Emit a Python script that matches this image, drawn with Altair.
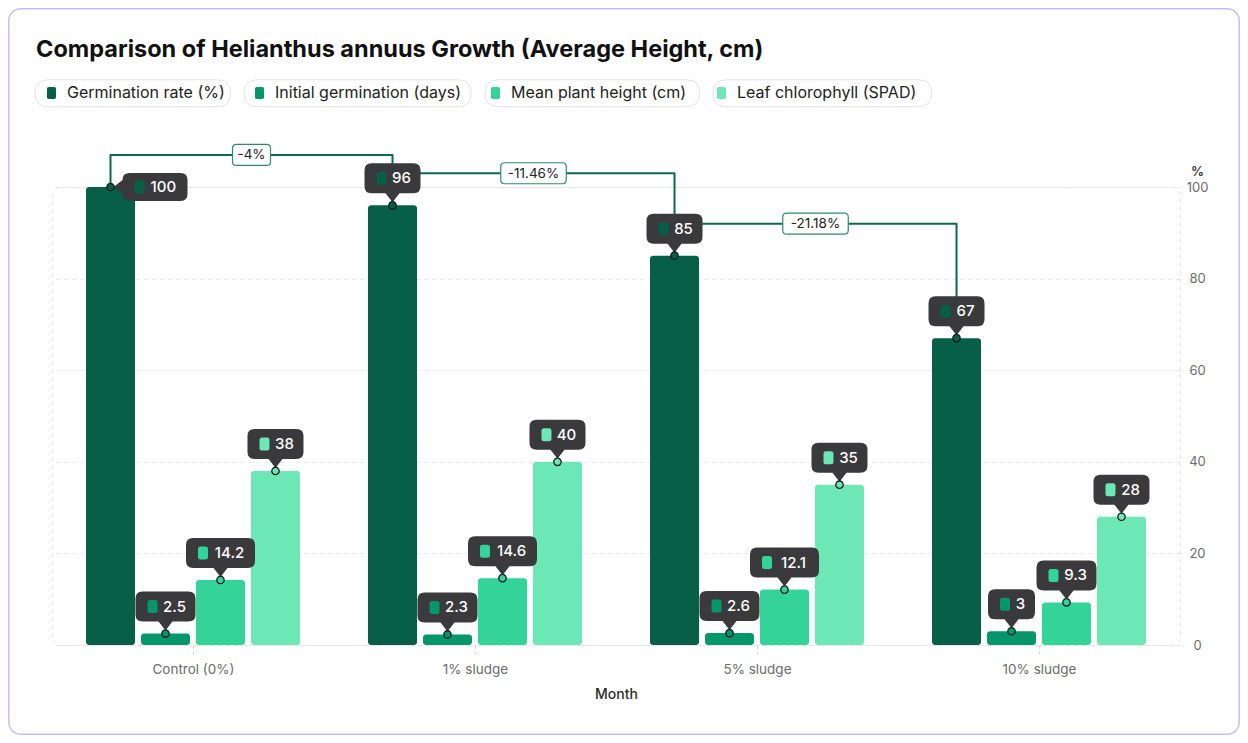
import altair as alt
import pandas as pd

# ---------------- data ----------------
categories = ["Control (0%)", "1% sludge", "5% sludge", "10% sludge"]
series_names = [
    "Germination rate (%)",
    "Initial germination (days)",
    "Mean plant height (cm)",
    "Leaf chlorophyll (SPAD)",
]
germination_rate = [100, 96, 85, 67]
initial_germination = [2.5, 2.3, 2.6, 3]
mean_plant_height = [14.2, 14.6, 12.1, 9.3]
leaf_chlorophyll = [38, 40, 35, 28]
y_ticks = [0, 20, 40, 60, 80, 100]

colors = ["#065f46", "#059669", "#34d399", "#6ee7b7"]
FONT = "Inter"
LEGEND_FS = 16
ZW = "\u200b"  # zero-width marker so the outline legend is kept apart

# layout constants (category units / value units)
STEP = 0.195   # distance between bars of a group
HALF = 0.087   # half bar width
LIFT = 7       # connector height above the taller bar


def fmt(v):
    return f"{v:g}"


def rr(x0, y0, x1, y1, r, k=1.0):
    x0, y0, x1, y1, r = (round(t / k, 4) for t in (x0, y0, x1, y1, r))
    return (f"M{x0 + r},{y0}H{x1 - r}Q{x1},{y0} {x1},{y0 + r}V{y1 - r}"
            f"Q{x1},{y1} {x1 - r},{y1}H{x0 + r}Q{x0},{y1} {x0},{y1 - r}"
            f"V{y0 + r}Q{x0},{y0} {x0 + r},{y0}Z")


def tip_width(label):
    return 38 + sum(4 if c == "." else 9 for c in label)


def tip_box(label, side):
    w = tip_width(label)
    r = 7
    if side == "top":
        l, rt, t, b = -w / 2, w / 2, -42, -12
        return (f"M{l + r},{t}H{rt - r}Q{rt},{t} {rt},{t + r}V{b - r}"
                f"Q{rt},{b} {rt - r},{b}H7L0,-3L-7,{b}H{l + r}"
                f"Q{l},{b} {l},{b - r}V{t + r}Q{l},{t} {l + r},{t}Z")
    l, rt, t, b = 12, 12 + w, -14, 14
    return (f"M{l + r},{t}H{rt - r}Q{rt},{t} {rt},{t + r}V{b - r}"
            f"Q{rt},{b} {rt - r},{b}H{l + r}Q{l},{b} {l},{b - r}"
            f"V7L3,0L{l},-7V{t + r}Q{l},{t} {l + r},{t}Z")


def tip_chip(label, side):
    w = tip_width(label)
    if side == "top":
        x0 = -w / 2 + 12
        return rr(x0, -33.5, x0 + 10, -20.5, 2.5)
    return rr(24, -6.5, 34, 6.5, 2.5)


def pct_width(s):
    tbl = {"-": 6, ".": 3.5, "%": 12}
    return 12 + sum(tbl.get(c, 8) for c in s)


# approximate Inter advance widths (em) for the legend pill outlines
EM = {"a": .55, "b": .6, "c": .55, "d": .6, "e": .57, "f": .35, "g": .6, "h": .6,
      "i": .25, "j": .25, "l": .25, "m": .9, "n": .6, "o": .6, "p": .6, "r": .38,
      "s": .52, "t": .36, "u": .6, "y": .55, " ": .28, "(": .33, ")": .33,
      "%": .8, "G": .72, "I": .27, "M": .85, "L": .53, "S": .62, "P": .62,
      "A": .7, "D": .72}


def text_w(s, fs):
    return sum(EM.get(c, .58) for c in s) * fs


SYM_OFF = 7.5   # legend symbol offset
LAB_OFF = 7.5   # legend label offset


def pill_path(name):
    # symbol centre sits 16.5px right of the pill's left edge; symbol unit = 6px
    w = 41 + text_w(name, LEGEND_FS)
    return rr(-16.5, -13.5, w - 16.5, 13.5, 13.5, k=6.0)


series_values = [germination_rate, initial_germination, mean_plant_height, leaf_chlorophyll]
rows = []
for j, (name, vals) in enumerate(zip(series_names, series_values)):
    for i, (cat, v) in enumerate(zip(categories, vals)):
        label = fmt(v)
        side = "right" if v > 97 else "top"
        rows.append(dict(category=cat, series=name, pill=name + ZW, value=v, ci=i, si=j,
                         label=label, side=side,
                         box=tip_box(label, side), chip=tip_chip(label, side)))
df = pd.DataFrame(rows)

conn_rows, pct_rows = [], []
for i in range(len(categories) - 1):
    a, b = germination_rate[i], germination_rate[i + 1]
    level = max(a, b) + LIFT
    for k, (ci, yv) in enumerate([(i, a), (i, level), (i + 1, level), (i + 1, b)]):
        conn_rows.append(dict(link=i, order=k, ci=ci, y=yv))
    pct = fmt(round((b - a) / a * 100, 2)) + "%"
    w = pct_width(pct)
    pct_rows.append(dict(link=i, ci=i + 0.5, y=level, label=pct,
                         box=rr(-w / 2, -10.5, w / 2, 10.5, 4)))
conn_df = pd.DataFrame(conn_rows)
pct_df = pd.DataFrame(pct_rows)

# ---------------- scales / axes ----------------
xscale = alt.Scale(domain=[-0.5, len(categories) - 0.5], nice=False, zero=False)
yscale = alt.Scale(domain=[0, 100], nice=False)
color_scale = alt.Scale(domain=series_names, range=colors)
pill_scale = alt.Scale(domain=[n + ZW for n in series_names],
                       range=[pill_path(n) for n in series_names])

label_expr = "[" + ",".join(f"'{c}'" for c in categories) + "][datum.value]"

x_axis = alt.Axis(
    values=list(range(len(categories))), labelExpr=label_expr, title="Month",
    grid=False, domain=False, ticks=True, tickSize=10, tickDash=[3, 3],
    tickColor="#d6d6d6", labelPadding=7, labelColor="#6b6b6b", labelFontSize=13.5,
    labelFont=FONT, titleFont=FONT, titleFontSize=14, titleFontWeight=500,
    titleColor="#2b2b2b", titlePadding=12,
)
y_axis = alt.Axis(
    orient="right", values=y_ticks, title="%", titleAngle=0, titleX=17, titleY=-9,
    titleAlign="center", titleBaseline="bottom", titleFontSize=13,
    titleFontWeight=600, titleColor="#333333", titleFont=FONT,
    labelAlign="center", labelPadding=17, ticks=False, domain=False, grid=True,
    gridDash=[4, 4], gridColor="#e6e6e6", labelColor="#6b6b6b", labelFontSize=13,
    labelFont=FONT,
)

common_legend = dict(
    orient="none", direction="horizontal", title=None, symbolSize=144,
    symbolOpacity=1, labelFont=FONT, labelFontSize=LEGEND_FS, labelLimit=600,
    symbolOffset=SYM_OFF, labelOffset=LAB_OFF, legendX=-16, legendY=-102,
)
legend_main = alt.Legend(
    symbolType="M-0.75,-0.7Q-0.75,-1 -0.45,-1L0.45,-1Q0.75,-1 0.75,-0.7L0.75,0.7Q0.75,1 0.45,1L-0.45,1Q-0.75,1 -0.75,0.7Z",
    symbolStrokeWidth=0, labelColor="#222222", columnPadding=19, zindex=2,
    **common_legend,
)
legend_pill = alt.Legend(
    symbolStrokeColor="#e3e3e3", symbolStrokeWidth=1, labelExpr="''",
    columnPadding=9, zindex=1, **common_legend,
)

pos_expr = f"datum.ci + (datum.si - 1.5) * {STEP}"
base = alt.Chart(df).transform_calculate(
    pos=pos_expr,
    x0=f"{pos_expr} - {HALF}",
    x1=f"{pos_expr} + {HALF}",
)

X = alt.X("pos:Q", scale=xscale, title="Month")
Y = alt.Y("value:Q", scale=yscale, title="%")

frame = alt.Chart(pd.DataFrame({"k": [0]})).mark_rect(
    fill="transparent", stroke="#c9bcfb", strokeWidth=1.5, cornerRadius=12
).encode(x=alt.value(-43.2), x2=alt.value(1187.2), y=alt.value(-178.2), y2=alt.value(547.2))

bars = base.mark_bar(cornerRadius=3).encode(
    x=alt.X("x0:Q", scale=xscale, axis=x_axis),
    x2="x1:Q",
    y=alt.Y("value:Q", scale=yscale, axis=y_axis),
    y2=alt.datum(0),
    color=alt.Color("series:N", scale=color_scale, sort=series_names, legend=legend_main),
)

# legend-only layer: draws no marks, only supplies the outlined legend pills
pills = base.transform_filter("false").mark_point(
    filled=False, color="#e3e3e3", strokeWidth=1, opacity=1
).encode(
    x=X, y=Y, shape=alt.Shape("pill:N", scale=pill_scale, legend=legend_pill)
)

conn = alt.Chart(conn_df).transform_calculate(
    pos=f"datum.ci - 1.5 * {STEP}"
).mark_line(color="#0b6a4c", strokeWidth=2, strokeJoin="round").encode(
    x=X, y=alt.Y("y:Q", scale=yscale, title="%"), detail="link:N", order="order:O"
)

pct_base = alt.Chart(pct_df).transform_calculate(pos=f"datum.ci - 1.5 * {STEP}")
pct_box = pct_base.mark_point(
    filled=True, fill="white", stroke="#2f8a69", strokeWidth=1.2, size=4, opacity=1
).encode(x=X, y=alt.Y("y:Q", scale=yscale, title="%"), shape=alt.Shape("box:N", scale=None))
pct_text = pct_base.mark_text(font=FONT, fontSize=13.5, color="#222222", baseline="middle", dy=0.5).encode(
    x=X, y=alt.Y("y:Q", scale=yscale, title="%"), text="label:N"
)

tips = base.mark_point(filled=True, size=4, opacity=1, color="#3a3a3c", strokeWidth=0).encode(
    x=X, y=Y, shape=alt.Shape("box:N", scale=None)
)
chips = base.mark_point(filled=True, size=4, opacity=1, strokeWidth=0).encode(
    x=X, y=Y, shape=alt.Shape("chip:N", scale=None),
    color=alt.Color("series:N", scale=color_scale, legend=None),
)
tip_text_top = base.transform_filter("datum.side == 'top'").mark_text(
    dx=9, dy=-27, align="center", baseline="middle", color="white", font=FONT,
    fontSize=15, fontWeight=500
).encode(x=X, y=Y, text="label:N")
tip_text_right = base.transform_filter("datum.side == 'right'").mark_text(
    dx=40, dy=0, align="left", baseline="middle", color="white", font=FONT,
    fontSize=15, fontWeight=500
).encode(x=X, y=Y, text="label:N")
dots = base.mark_point(shape="circle", filled=True, size=55, stroke="#1c1c1c",
                       strokeWidth=1.3, opacity=1).encode(
    x=X, y=Y, color=alt.Color("series:N", scale=color_scale, legend=None)
)

chart = alt.layer(
    frame, bars, pills, conn, pct_box, pct_text, tips, chips, tip_text_top,
    tip_text_right, dots
).properties(
    width=1128, height=458,
    title=alt.TitleParams(
        "Comparison of Helianthus annuus Growth (Average Height, cm)",
        anchor="start", frame="group", font=FONT, fontSize=23.5, fontWeight="bold",
        color="#111111", dx=-16, dy=73, offset=20,
    ),
    padding={"left": 44, "top": 179, "right": 60, "bottom": 90},
    autosize="none",
    background="white",
).configure_view(
    stroke="#e3e3e3", strokeDash=[4, 4], strokeWidth=1, cornerRadius=8
)

chart.save("out.html", embed_options={"renderer": "svg", "actions": False})
